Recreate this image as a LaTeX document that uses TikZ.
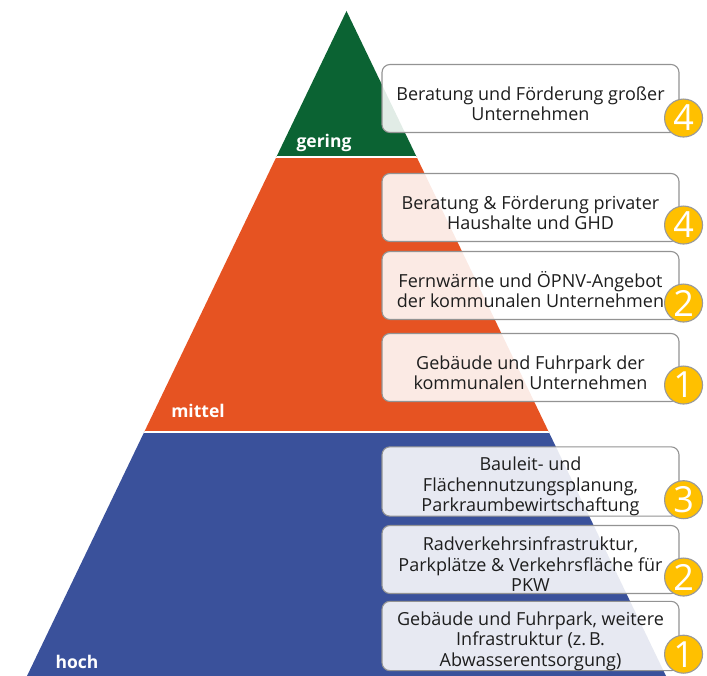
\documentclass[tikz,border=0pt]{standalone}
\usepackage{fontspec}
\setmainfont{Open Sans}
\usepackage{tikz}
\usetikzlibrary{positioning}
\definecolor{gruen}{HTML}{0B6333}
\definecolor{orange}{HTML}{E65322}
\definecolor{blau}{HTML}{3A519B}
\definecolor{gold}{HTML}{FFC000}
\definecolor{textgrau}{HTML}{1E1E1E}
\newcommand{\oben}{\rule{0pt}{24pt}}
\tikzstyle{massnahme} = [rectangle, rounded corners=8pt, minimum width=297pt, minimum height=68pt, inner sep=0pt, align=center, draw=gray!85, line width=1.1pt, fill=white, fill opacity=0.88, text opacity=1, text=textgrau, font=\fontsize{18}{20.5}\selectfont]
\tikzstyle{prio} = [circle, minimum size=38pt, inner sep=0pt, draw=gray!80, line width=1.1pt, fill=gold, text=white, font=\fontsize{36}{36}\selectfont]
\tikzstyle{stufe} = [text=white, font=\bfseries\fontsize{17.5}{19}\selectfont]

\begin{document}
\begin{tikzpicture}[x=1pt, y=1pt, node distance=78pt]

			\useasboundingbox (0,0) rectangle (707,676);

			% Pyramide
			\begin{scope}
				\clip (27,0) -- (346.5,665) -- (666,0) -- cycle;
				\fill [blau] (0,0) rectangle (707,244);
				\fill [orange] (0,244) rectangle (707,519);
				\fill [gruen] (0,519) rectangle (707,676);
				\draw [white, line width=1.5pt] (0,244) -- (707,244);
				\draw [white, line width=1.5pt] (0,519) -- (707,519);
			\end{scope}

			\node (gering) [stufe] at (324,533) {gering};
			\node (mittel) [stufe] at (198,265) {mittel};
			\node (hoch) [stufe] at (77,14) {hoch};

			\node (grossUnt) [massnahme] at (530.5,577.5) {\oben Beratung und Förderung großer\\Unternehmen};
			\node (privHaus) [massnahme, below of=grossUnt, yshift=-31pt] {\oben Beratung \& Förderung privater\\Haushalte und GHD};
			\node (fernwaerme) [massnahme, below of=privHaus] {\oben Fernwärme und ÖPNV-Angebot\\der kommunalen Unternehmen};
			\node (kommGeb) [massnahme, below of=fernwaerme, yshift=-4pt] {\oben Gebäude und Fuhrpark der\\kommunalen Unternehmen};
			\node (bauleit) [massnahme, below of=kommGeb, yshift=-36pt] {\oben Bauleit- und\\Flächennutzungsplanung,\\Parkraumbewirtschaftung};
			\node (radverkehr) [massnahme, below of=bauleit] {\oben Radverkehrsinfrastruktur,\\Parkplätze \& Verkehrsfläche für\\PKW};
			\node (infra) [massnahme, below of=radverkehr, yshift=1.5pt] {\oben Gebäude und Fuhrpark, weitere\\Infrastruktur (z.\,B.\\Abwasserentsorgung)};

			\node (prioGross) [prio] at ([xshift=4pt, yshift=15pt]grossUnt.south east) {4};
			\node (prioPriv) [prio] at ([xshift=4pt, yshift=17pt]privHaus.south east) {4};
			\node (prioFern) [prio] at ([xshift=4pt, yshift=17pt]fernwaerme.south east) {2};
			\node (prioKomm) [prio] at ([xshift=4pt, yshift=17pt]kommGeb.south east) {1};
			\node (prioBau) [prio] at ([xshift=4pt, yshift=17pt]bauleit.south east) {3};
			\node (prioRad) [prio] at ([xshift=4pt, yshift=17pt]radverkehr.south east) {2};
			\node (prioInfra) [prio] at ([xshift=4pt, yshift=17pt]infra.south east) {1};

\end{tikzpicture}
\end{document}
